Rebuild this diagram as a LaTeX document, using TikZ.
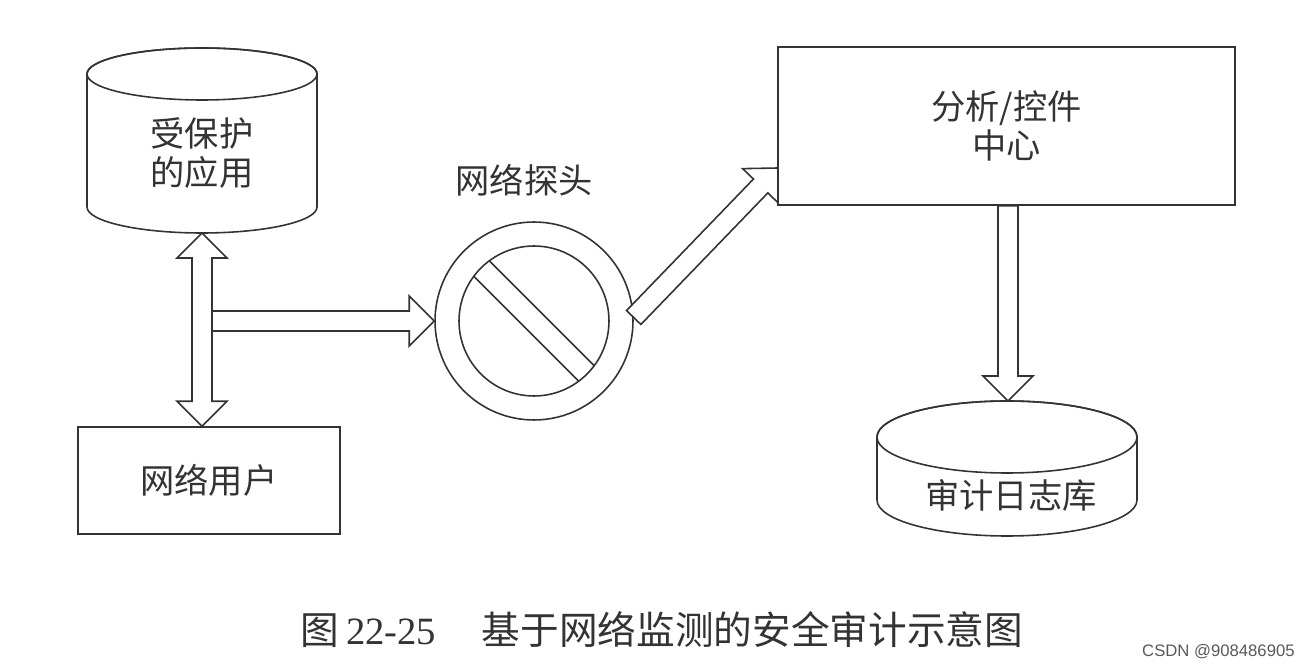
\documentclass[tikz,border=0pt]{standalone}
\usepackage{fontspec}
\usetikzlibrary{calc}
\newfontfamily\cjk{Noto Sans CJK SC}
\newfontfamily\numfont{Liberation Serif}
\newfontfamily\wmfont{Liberation Sans}
\newcommand{\bahead}{0.5cm}
\newcommand{\bawing}{0.5cm}
\newcommand{\bashaft}{0.2cm}

\begin{document}
\begin{tikzpicture}[
  x=0.02cm, y=-0.02cm,
  outline/.style={draw=black!80,line width=0.9pt},
  txt/.style={font=\cjk\fontsize{19.5}{22.7}\selectfont,text=black!80,align=center},
  box/.style={outline,txt,fill=white,minimum width=5.24cm,minimum height=2.14cm},
  blockarrow/.style={outline,fill=white,
    to path={($(\tikztotarget)!\bahead!(\tikztostart)$) coordinate (ba-c)
      ($(\tikztostart)!\bashaft!90:(\tikztotarget)$)
      -- ($(ba-c)!\bashaft!-90:(\tikztostart)$)
      -- ($(ba-c)!\bawing!-90:(\tikztostart)$)
      -- (\tikztotarget)
      -- ($(ba-c)!\bawing!90:(\tikztostart)$)
      -- ($(ba-c)!\bashaft!90:(\tikztostart)$)
      -- ($(\tikztostart)!\bashaft!-90:(\tikztotarget)$) -- cycle}},
  dblarrow/.style={outline,fill=white,
    to path={($(\tikztostart)!\bahead!(\tikztotarget)$) coordinate (ba-a)
      ($(\tikztotarget)!\bahead!(\tikztostart)$) coordinate (ba-b)
      (\tikztostart)
      -- ($(ba-a)!\bawing!90:(\tikztotarget)$)
      -- ($(ba-a)!\bashaft!90:(\tikztotarget)$)
      -- ($(ba-b)!\bashaft!-90:(\tikztostart)$)
      -- ($(ba-b)!\bawing!-90:(\tikztostart)$)
      -- (\tikztotarget)
      -- ($(ba-b)!\bawing!90:(\tikztostart)$)
      -- ($(ba-b)!\bashaft!90:(\tikztostart)$)
      -- ($(ba-a)!\bashaft!-90:(\tikztotarget)$)
      -- ($(ba-a)!\bawing!-90:(\tikztotarget)$) -- cycle}}
]
  \useasboundingbox (0,0) rectangle (1313,668);

  % the two cylinders
  \foreach \cx/\cy/\h/\rx/\ry in {202/74/133/115/26, 1007/437/63/130/36} {
    \path[outline,fill=white] (\cx-\rx,\cy) -- (\cx-\rx,\cy+\h)
      arc[start angle=180,end angle=0,x radius=\rx,y radius=\ry]
      -- (\cx+\rx,\cy)
      arc[start angle=360,end angle=180,x radius=\rx,y radius=\ry] -- cycle;
    \draw[outline] (\cx,\cy) ellipse[x radius=\rx,y radius=\ry];
  }
  \node[txt] (app) at (202,153) {受保护\\的应用};
  \node[txt] (log) at (1011,495) {审计日志库};
  \coordinate (appbot) at (202,233);
  \coordinate (logtop) at (1008,401);

  \node[box] (user) at (209,480.5) {网络用户};

  \node[outline,circle,fill=white,minimum size=3.96cm] (probe) at (534,321) {};
  \node[outline,circle,minimum size=3cm] (lens) at (probe.center) {};
  \foreach \a/\b in {-44.7/-60.3, -60.3/-44.7}
    \draw[outline] ($(probe.center)+(\a,\b)$) -- ($(probe.center)+(-\b,-\a)$);
  \node[txt] (probelbl) at (524,180) {网络探头};

  \coordinate (userin) at (appbot |- user.north);
  \coordinate (teeout) at ($(appbot |- probe.west)+(10,0)$);
  \coordinate (probeout) at (probe.2);
  \coordinate (ctrlin) at (778,168);

  \draw[dblarrow] (appbot) to (userin);
  \draw[blockarrow] (teeout) to (probe.west);
  \draw[blockarrow] (probeout) to (ctrlin);

  \node[box,minimum width=9.14cm,minimum height=3.16cm] (ctrl) at (1006.5,126) {分析/控件\\中心};
  \coordinate (ctrlout) at (logtop |- ctrl.south);
  \draw[blockarrow] (ctrlout) to (logtop);

  \node[anchor=west,inner sep=0pt,text=black!80,font=\fontsize{22}{24}\selectfont] (cap) at (300,630)
    {{\cjk 图}\hspace{4pt}{\numfont 22-25}\hspace{26pt}{\cjk 基于网络监测的安全审计示意图}};
  \node[anchor=east,inner sep=0pt,text=black!65,font=\wmfont\fontsize{9.5}{11}\selectfont] (mark) at (1295,652)
    {CSDN @908486905};
\end{tikzpicture}
\end{document}
